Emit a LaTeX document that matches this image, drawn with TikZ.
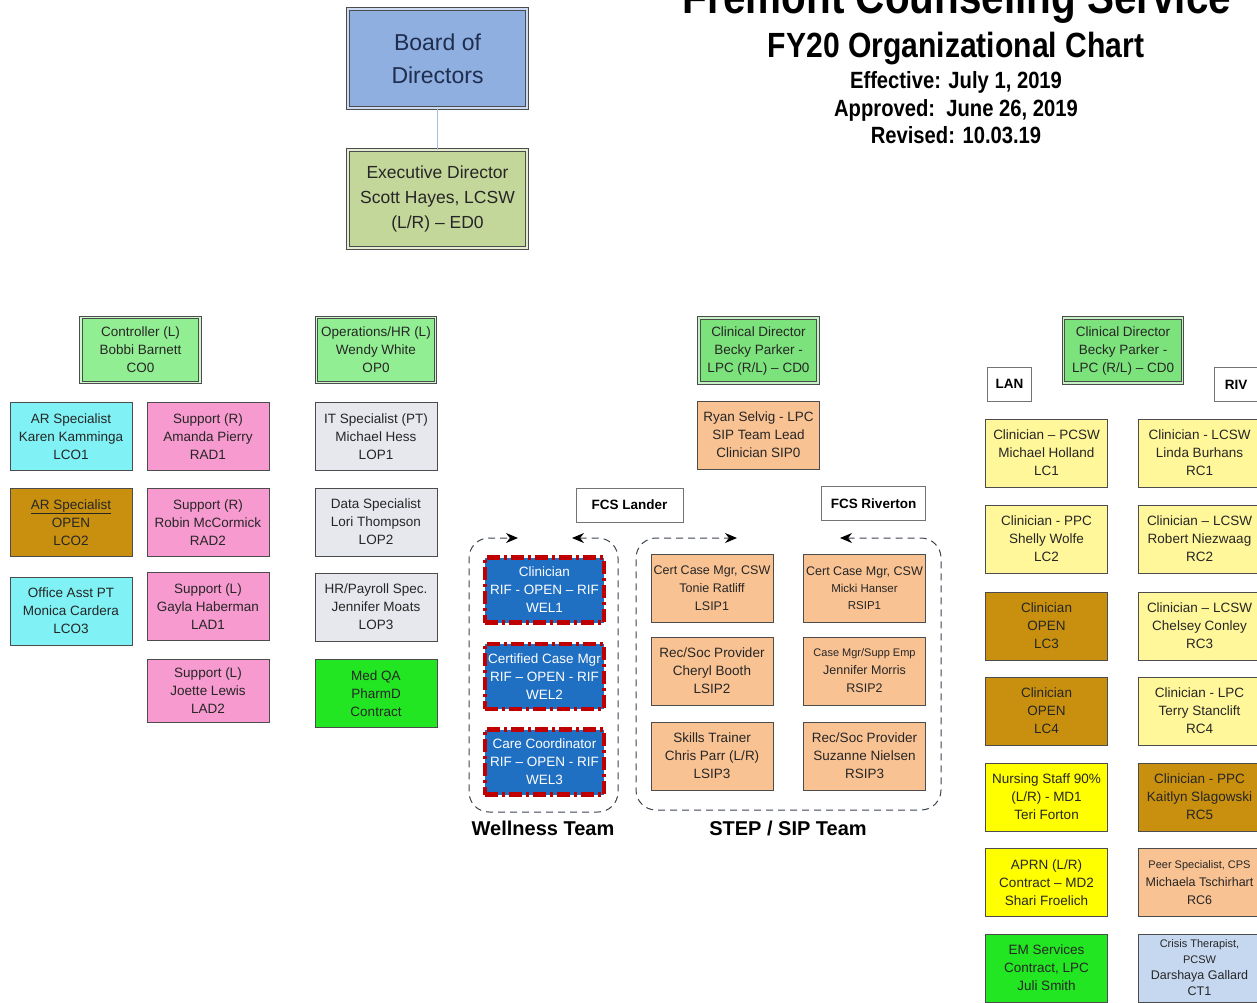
\documentclass[tikz,border=0pt]{standalone}
\usepackage{fontspec}
\setmainfont{Liberation Sans}
\newfontfamily\titlefont{Liberation Sans}[FakeStretch=0.86]
\usetikzlibrary{arrows.meta}
\definecolor{bodblue}{HTML}{8EAFDF}
\definecolor{bodtext}{HTML}{1F2D4F}
\definecolor{edgreen}{HTML}{C4D79B}
\definecolor{ltgreen}{HTML}{92EE92}
\definecolor{cdgreen}{HTML}{7CE27C}
\definecolor{ltcyan}{HTML}{80F2F5}
\definecolor{ltpink}{HTML}{F79ACF}
\definecolor{opengold}{HTML}{C8900E}
\definecolor{ltgray}{HTML}{E6E8EE}
\definecolor{brgreen}{HTML}{22E622}
\definecolor{wblue}{HTML}{1F6FC2}
\definecolor{wred}{HTML}{C00000}
\definecolor{peach}{HTML}{F9C293}
\definecolor{paleyel}{HTML}{FFF799}
\definecolor{bryel}{HTML}{FFFF00}
\definecolor{ctblue}{HTML}{C6D8EF}
\definecolor{lnblue}{HTML}{A7BFDD}
\definecolor{grpgray}{HTML}{3C4450}
\begin{document}
\begin{tikzpicture}[x=1pt, y=-1pt,
	cbox/.style = {shape = rectangle,
	               draw = black!70,
	               line width = 1pt,
	               inner sep = 1pt,
	               align = center,
	               minimum width = 122pt,
	               minimum height = 68pt,
	               text = black!85,
	               font = \fontsize{13.5}{18}\selectfont},
	dbox/.style = {cbox, fill = #1, draw = black!70, line width = 1pt,
	               double = #1!45!white, double distance = 1.4pt,
	               minimum width = 119pt, minimum height = 65pt},
	wbox/.style = {cbox, fill = wblue, text = white, draw = wred,
	               line width = 4.5pt,
	               dash pattern = on 13pt off 4pt on 3pt off 4pt,
	               minimum width = 119pt, minimum height = 65pt},
	tag/.style = {draw = black!55, line width = 0.8pt, fill = white, inner sep = 2pt,
	              minimum height = 34pt,
	              font = \bfseries\fontsize{13.5}{16}\selectfont},
	team/.style = {font = \bfseries\fontsize{20}{24}\selectfont},
	grp/.style = {draw = grpgray, line width = 1pt,
	              dash pattern = on 7pt off 5pt,
	              rounded corners = 20pt,
	              {Stealth[length=12pt,width=10pt,black]}-{Stealth[length=12pt,width=10pt,black]}},
	ttl/.style = {anchor = base, font = \titlefont\bfseries}]
	\useasboundingbox (0,0) rectangle (1257,1002);

	\node[ttl, font = \titlefont\bfseries\fontsize{47}{50}\selectfont] (fcs) at (957,13) {Fremont Counseling Service};
	\node[ttl, font = \titlefont\bfseries\fontsize{35}{40}\selectfont] (fy20) at (956,57) {FY20 Organizational Chart};
	\node[ttl, font = \titlefont\bfseries\fontsize{23.5}{26}\selectfont] (eff) at (956,88) {Effective: July 1, 2019};
	\node[ttl, font = \titlefont\bfseries\fontsize{23.5}{26}\selectfont] (appr) at (956,116) {Approved:\ \ June 26, 2019};
	\node[ttl, font = \titlefont\bfseries\fontsize{23.5}{26}\selectfont] (rev) at (956,143) {Revised: 10.03.19};

	\node[dbox = bodblue, minimum width = 179pt, minimum height = 99pt,
	      text = bodtext, font = \fontsize{23}{33}\selectfont] (bod) at (437.5,58.5) {Board of\\Directors};
	\node[dbox = edgreen, minimum width = 179pt, minimum height = 98pt,
	      font = \fontsize{17.5}{25}\selectfont] (ed0) at (437.5,199) {Executive Director\\Scott Hayes, LCSW\\(L/R) -- ED0};
	\path (bod) edge[lnblue, line width = 1.4pt] (ed0);

	\node[dbox = ltgreen] (co0) at (140.5,350) {Controller (L)\\Bobbi Barnett\\CO0};
	\node[cbox, fill = ltcyan] (lco1) at (71,436.5) {AR Specialist\\Karen Kamminga\\LCO1};
	\node[cbox, fill = opengold] (lco2) at (71,522.5) {\underline{AR Specialist}\\OPEN\\LCO2};
	\node[cbox, fill = ltcyan] (lco3) at (71,611) {Office Asst PT\\Monica Cardera\\LCO3};
	\node[cbox, fill = ltpink] (rad1) at (208,436.5) {Support (R)\\Amanda Pierry\\RAD1};
	\node[cbox, fill = ltpink] (rad2) at (208,522.5) {Support (R)\\Robin McCormick\\RAD2};
	\node[cbox, fill = ltpink] (lad1) at (208,606.5) {Support (L)\\Gayla Haberman\\LAD1};
	\node[cbox, fill = ltpink, minimum height = 63pt] (lad2) at (208,690.5) {Support (L)\\Joette Lewis\\LAD2};

	\node[dbox = ltgreen] (op0) at (376,350) {Operations/HR (L)\\Wendy White\\OP0};
	\node[cbox, fill = ltgray] (lop1) at (376,436.5) {IT Specialist (PT)\\Michael Hess\\LOP1};
	\node[cbox, fill = ltgray] (lop2) at (376,522) {Data Specialist\\Lori Thompson\\LOP2};
	\node[cbox, fill = ltgray] (lop3) at (376,607) {HR/Payroll Spec.\\Jennifer Moats\\LOP3};
	\node[cbox, fill = brgreen] (mqa) at (376,693.5) {Med QA\\PharmD\\Contract};

	\node[wbox] (wel1) at (544.5,590) {Clinician\\RIF - OPEN -- RIF\\WEL1};
	\node[wbox] (wel2) at (544.5,676.5) {Certified Case Mgr\\RIF -- OPEN - RIF\\WEL2};
	\node[wbox] (wel3) at (544.5,762) {Care Coordinator\\RIF -- OPEN - RIF\\WEL3};
	\draw[grp] (572,538) -- (618,538) -- (618,812) -- (469,812) -- (469,538) -- (518,538);
	\node[team] (wteam) at (543,828) {Wellness Team};

	\node[dbox = cdgreen] (cd0) at (758.5,350.5) {Clinical Director\\Becky Parker -\\LPC (R/L) -- CD0};
	\node[cbox, fill = peach] (sip0) at (758.5,435) {Ryan Selvig - LPC\\SIP Team Lead\\Clinician SIP0};
	\node[tag, minimum width = 107pt] (lander) at (629.5,505) {FCS Lander};
	\node[tag, minimum width = 104pt] (riverton) at (873.5,503.5) {FCS Riverton};
	\node[cbox, fill = peach, font = \fontsize{12.5}{18}\selectfont] (lsip1) at (712,588.5) {Cert Case Mgr, CSW\\Tonie Ratliff\\LSIP1};
	\node[cbox, fill = peach] (lsip2) at (712,671) {Rec/Soc Provider\\Cheryl Booth\\LSIP2};
	\node[cbox, fill = peach] (lsip3) at (712,756) {Skills Trainer\\Chris Parr (L/R)\\LSIP3};
	\node[cbox, fill = peach, font = \fontsize{12.5}{17}\selectfont] (rsip1) at (864.5,588.5) {Cert Case Mgr, CSW\\{\fontsize{11.5}{17}\selectfont Micki Hanser}\\{\fontsize{11.5}{17}\selectfont RSIP1}};
	\node[cbox, fill = peach, font = \fontsize{12.5}{18}\selectfont] (rsip2) at (864.5,671) {{\fontsize{11}{18}\selectfont Case Mgr/Supp Emp}\\Jennifer Morris\\RSIP2};
	\node[cbox, fill = peach] (rsip3) at (864.5,756) {Rec/Soc Provider\\Suzanne Nielsen\\RSIP3};
	\draw[grp] (840,538) -- (941,538) -- (941,810) -- (636,810) -- (636,538) -- (737,538);
	\node[team] (steam) at (788,828) {STEP / SIP Team};

	\node[dbox = cdgreen] (cd0r) at (1123,350.5) {Clinical Director\\Becky Parker -\\LPC (R/L) -- CD0};
	\node[tag, minimum width = 44pt] (lan) at (1009.5,384) {LAN};
	\node[tag, minimum width = 44pt] (riv) at (1236,384.5) {RIV};
	\node[cbox, fill = paleyel] (lc1) at (1046.5,453) {Clinician -- PCSW\\Michael Holland\\LC1};
	\node[cbox, fill = paleyel] (lc2) at (1046.5,539) {Clinician - PPC\\Shelly Wolfe\\LC2};
	\node[cbox, fill = opengold] (lc3) at (1046.5,626) {Clinician\\OPEN\\LC3};
	\node[cbox, fill = opengold] (lc4) at (1046.5,711) {Clinician\\OPEN\\LC4};
	\node[cbox, fill = bryel] (md1) at (1046.5,797) {Nursing Staff 90\%\\(L/R) - MD1\\Teri Forton};
	\node[cbox, fill = bryel] (md2) at (1046.5,882.5) {APRN (L/R)\\Contract -- MD2\\Shari Froelich};
	\node[cbox, fill = brgreen] (em) at (1046.5,968) {EM Services\\Contract, LPC\\Juli Smith};
	\node[cbox, fill = paleyel] (rc1) at (1199.5,453) {Clinician - LCSW\\Linda Burhans\\RC1};
	\node[cbox, fill = paleyel] (rc2) at (1199.5,539) {Clinician -- LCSW\\Robert Niezwaag\\RC2};
	\node[cbox, fill = paleyel] (rc3) at (1199.5,626) {Clinician -- LCSW\\Chelsey Conley\\RC3};
	\node[cbox, fill = paleyel] (rc4) at (1199.5,711) {Clinician - LPC\\Terry Stanclift\\RC4};
	\node[cbox, fill = opengold] (rc5) at (1199.5,797) {Clinician - PPC\\Kaitlyn Slagowski\\RC5};
	\node[cbox, fill = peach, font = \fontsize{12.5}{18}\selectfont] (rc6) at (1199.5,882.5) {{\fontsize{11}{18}\selectfont Peer Specialist, CPS}\\Michaela Tschirhart\\RC6};
	\node[cbox, fill = ctblue, font = \fontsize{12.5}{16}\selectfont] (ct1) at (1199.5,968) {{\fontsize{11}{14}\selectfont Crisis Therapist,}\\{\fontsize{11}{14}\selectfont PCSW}\\Darshaya Gallard\\CT1};
\end{tikzpicture}
\end{document}
